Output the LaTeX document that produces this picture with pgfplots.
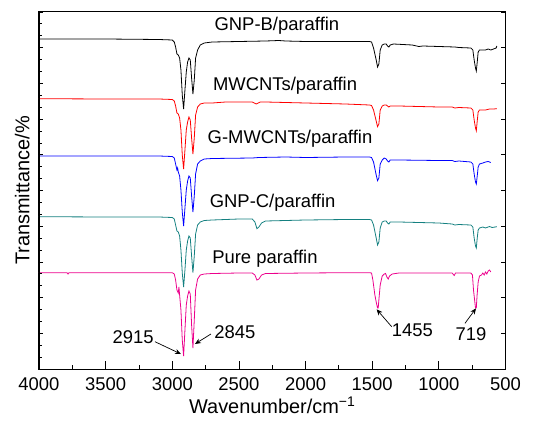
\documentclass[border=0pt]{standalone}
\usepackage{pgfplots}
\pgfplotsset{compat=1.18}
\usepackage{fontspec}
\setmainfont{Liberation Sans}
\usetikzlibrary{arrows.meta}
\definecolor{tealc}{RGB}{20,128,128}
\begin{document}
\begin{tikzpicture}
\useasboundingbox (-39bp,-56bp) rectangle (503bp,369bp);
\begin{axis}[
  at={(0,0)}, anchor=south west,
  scale only axis, width=466.5bp, height=357bp,
  x dir=reverse, xmin=500, xmax=4000,
  y dir=reverse, ymin=12, ymax=369,
  xtick={500,1000,...,4000},
  minor x tick num=1,
  xtick pos=bottom,
  ytick=\empty,
  major tick length=8bp, minor tick length=4bp,
  /pgf/number format/assume math mode=true,
  /pgf/number format/set thousands separator={},
  tick label style={font=\fontsize{18.5}{20}\selectfont},
  xticklabel style={yshift=-5bp},
  xlabel={Wavenumber/cm\textsuperscript{−1}},
  ylabel={Transmittance/\%},
  label style={font=\fontsize{20}{22}\selectfont},
  xlabel style={yshift=1bp},
  ylabel style={yshift=6bp},
  axis line style={line width=1bp},
  every tick/.style={black, line width=0.8bp},
  clip=false,
]
% GNP-B/paraffin
\addplot[black, line width=0.8bp] coordinates {
(4000,39)(3500,39)(3100,39.5)(3000,40)(2985,42)(2975,47)(2965,54)(2955,55)(2945,58)(2935,70)(2925,95)(2915,109)(2905,90)(2895,72)(2885,62)(2875,58)(2865,60)(2855,78)(2845,94)(2835,80)(2825,58)(2810,50)(2790,45)(2760,43)(2700,42)(2500,41.5)(2300,41)(2200,40.5)(2150,41)(2000,41.5)(1700,41.5)(1520,41.5)(1505,42)(1490,48)(1470,60)(1460,67)(1450,64)(1440,50)(1425,45)(1410,44)(1395,44)(1385,46)(1375,47)(1365,45)(1340,44)(1200,45)(1150,46.5)(1120,46)(1000,46.5)(880,47)(850,47.5)(760,48)(745,50)(735,60)(725,68)(719,71)(712,62)(705,52)(695,50)(650,50)(630,49)(610,50)(590,49)(570,48)(565,46)
};
% MWCNTs/paraffin
\addplot[red, line width=0.8bp] coordinates {
(4000,98.7)(3500,99)(3100,99)(3000,99.5)(2985,101)(2975,106)(2965,113)(2955,114)(2945,118)(2935,130)(2925,155)(2915,169)(2905,150)(2895,130)(2885,122)(2875,117)(2865,120)(2855,138)(2845,154)(2835,138)(2825,115)(2810,107)(2790,104)(2760,103)(2700,103)(2600,102)(2400,102)(2370,104)(2340,102)(2300,102)(2000,103)(1700,104)(1520,105)(1505,105.5)(1490,110)(1470,121)(1460,126.7)(1450,124)(1440,110)(1425,106)(1410,105)(1395,105)(1385,106)(1375,107)(1365,106)(1300,106)(1000,107)(900,107)(880,108)(850,107.5)(760,108)(745,110)(735,120)(725,128)(719,130.7)(712,121)(705,112)(695,110)(650,110)(620,109)(590,109)(565,108.7)
};
% G-MWCNTs/paraffin
\addplot[blue, line width=0.8bp] coordinates {
(4000,156)(3500,156)(3100,156)(3000,156.5)(2985,158)(2975,164)(2965,170)(2960,168)(2955,172)(2945,176)(2935,190)(2925,212)(2915,226)(2905,208)(2895,190)(2885,181)(2875,176)(2865,178)(2855,196)(2845,212)(2835,196)(2825,174)(2810,164)(2790,161)(2760,159)(2700,158.5)(2400,158)(2350,157.5)(2150,157)(2000,157.5)(1700,157)(1520,157)(1505,157.5)(1490,162)(1470,175)(1460,180.7)(1450,178)(1440,164)(1425,160)(1410,158)(1395,159)(1385,161)(1375,162)(1365,160)(1300,160)(1000,160.5)(900,160.5)(880,161.5)(850,161)(760,162)(745,164)(735,174)(725,182)(719,184)(712,176)(705,167)(695,164)(670,163)(650,162)(630,161.5)(610,162.5)
};
% GNP-C/paraffin
\addplot[tealc, line width=0.8bp] coordinates {
(4000,216.7)(3500,217)(3100,217)(3000,217.5)(2985,219)(2975,225)(2965,231)(2955,232)(2945,236)(2935,250)(2925,273)(2915,287)(2905,270)(2895,250)(2885,241)(2875,236)(2865,238)(2855,256)(2845,272.7)(2835,256)(2825,234)(2810,225)(2790,222)(2760,220.5)(2700,220)(2500,219)(2400,219)(2380,222)(2365,228.7)(2350,227)(2330,223)(2300,221)(2000,220)(1700,219.5)(1520,219.5)(1505,220)(1490,225)(1470,238)(1460,245)(1450,242)(1440,228)(1425,222)(1410,221)(1395,221)(1385,223)(1375,224)(1365,222)(1300,222)(1000,223)(900,224)(880,225)(850,224.5)(760,225)(745,227)(735,238)(725,246)(719,248)(712,238)(705,230)(695,228)(670,227)(650,228)(620,226.5)(600,227.5)(565,226.7)
};
% Pure paraffin
\addplot[magenta, line width=0.8bp] coordinates {
(4000,272.7)(3790,272.7)(3782,274)(3775,272.7)(3000,272.7)(2985,274)(2975,280)(2965,290)(2955,293)(2950,287)(2945,295)(2935,310)(2925,340)(2915,356)(2905,330)(2895,305)(2885,296)(2875,291)(2865,294)(2855,325)(2845,348)(2835,320)(2825,290)(2810,279)(2790,275)(2760,274)(2700,273.5)(2500,273)(2400,273)(2380,275)(2365,280)(2350,279)(2330,275)(2300,273.5)(2000,273)(1700,272.7)(1520,272.7)(1505,273)(1495,280)(1480,295)(1470,302)(1460,308)(1455,308)(1450,300)(1440,285)(1425,276)(1410,274)(1400,273.5)(1390,277)(1380,279)(1370,276)(1350,274)(1300,273)(1000,273)(900,273)(885,275.5)(875,273)(760,273)(748,275)(740,290)(730,302)(725,308)(719,308)(713,295)(705,282)(695,276)(680,275)(670,273)(660,275)(650,272)(640,274)(630,271)(620,270)(610,272)
};
\node[font=\fontsize{18.5}{20}\selectfont] at (axis cs:2215,25.5) {GNP-B/paraffin};
\node[font=\fontsize{18.5}{20}\selectfont] at (axis cs:2154,85.7) {MWCNTs/paraffin};
\node[font=\fontsize{18.5}{20}\selectfont] at (axis cs:2117,138.3) {G-MWCNTs/paraffin};
\node[font=\fontsize{18.5}{20}\selectfont] at (axis cs:2247,202.3) {GNP-C/paraffin};
\node[font=\fontsize{18.5}{20}\selectfont] at (axis cs:2305,258.3) {Pure paraffin};
\node[font=\fontsize{18.5}{20}\selectfont] at (axis cs:3293,336.7) {2915};
\node[font=\fontsize{18.5}{20}\selectfont] at (axis cs:2530,331.7) {2845};
\node[font=\fontsize{18.5}{20}\selectfont] at (axis cs:1199,330) {1455};
\node[font=\fontsize{18.5}{20}\selectfont] at (axis cs:759,334) {719};
\draw[-{Stealth[length=6bp,width=5bp]}, line width=0.7bp] (axis cs:3130,341.7) -- (axis cs:2935,354);
\draw[-{Stealth[length=6bp,width=5bp]}, line width=0.7bp] (axis cs:2710,334) -- (axis cs:2830,344);
\draw[-{Stealth[length=6bp,width=5bp]}, line width=0.7bp] (axis cs:1354,326.7) -- (axis cs:1467,309.3);
\draw[-{Stealth[length=6bp,width=5bp]}, line width=0.7bp] (axis cs:804,323.3) -- (axis cs:721,308.3);
\end{axis}
% left y ticks
\begin{axis}[
  at={(0,0)}, anchor=south west,
  scale only axis, width=466.5bp, height=357bp,
  xmin=500, xmax=4000,
  y dir=reverse, ymin=12, ymax=369,
  axis x line=none,
  axis y line*=left,
  ytick={12,47.7,83.4,119.1,154.8,190.5,226.2,261.9,297.6,333.3,369},
  minor y tick num=2,
  yticklabels={},
  major tick length=4bp, minor tick length=3bp,
  axis line style={line width=1bp},
  every tick/.style={black, line width=0.8bp},
]
\end{axis}
% right y ticks
\begin{axis}[
  at={(0,0)}, anchor=south west,
  scale only axis, width=466.5bp, height=357bp,
  xmin=500, xmax=4000,
  y dir=reverse, ymin=12, ymax=369,
  axis x line=none,
  axis y line*=right,
  ytick={12,47.7,83.4,119.1,154.8,190.5,226.2,261.9,297.6,333.3,369},
  yticklabels={},
  major tick length=5bp,
  axis line style={line width=1bp},
  every tick/.style={black, line width=0.8bp},
]
\end{axis}
\end{tikzpicture}
\end{document}
